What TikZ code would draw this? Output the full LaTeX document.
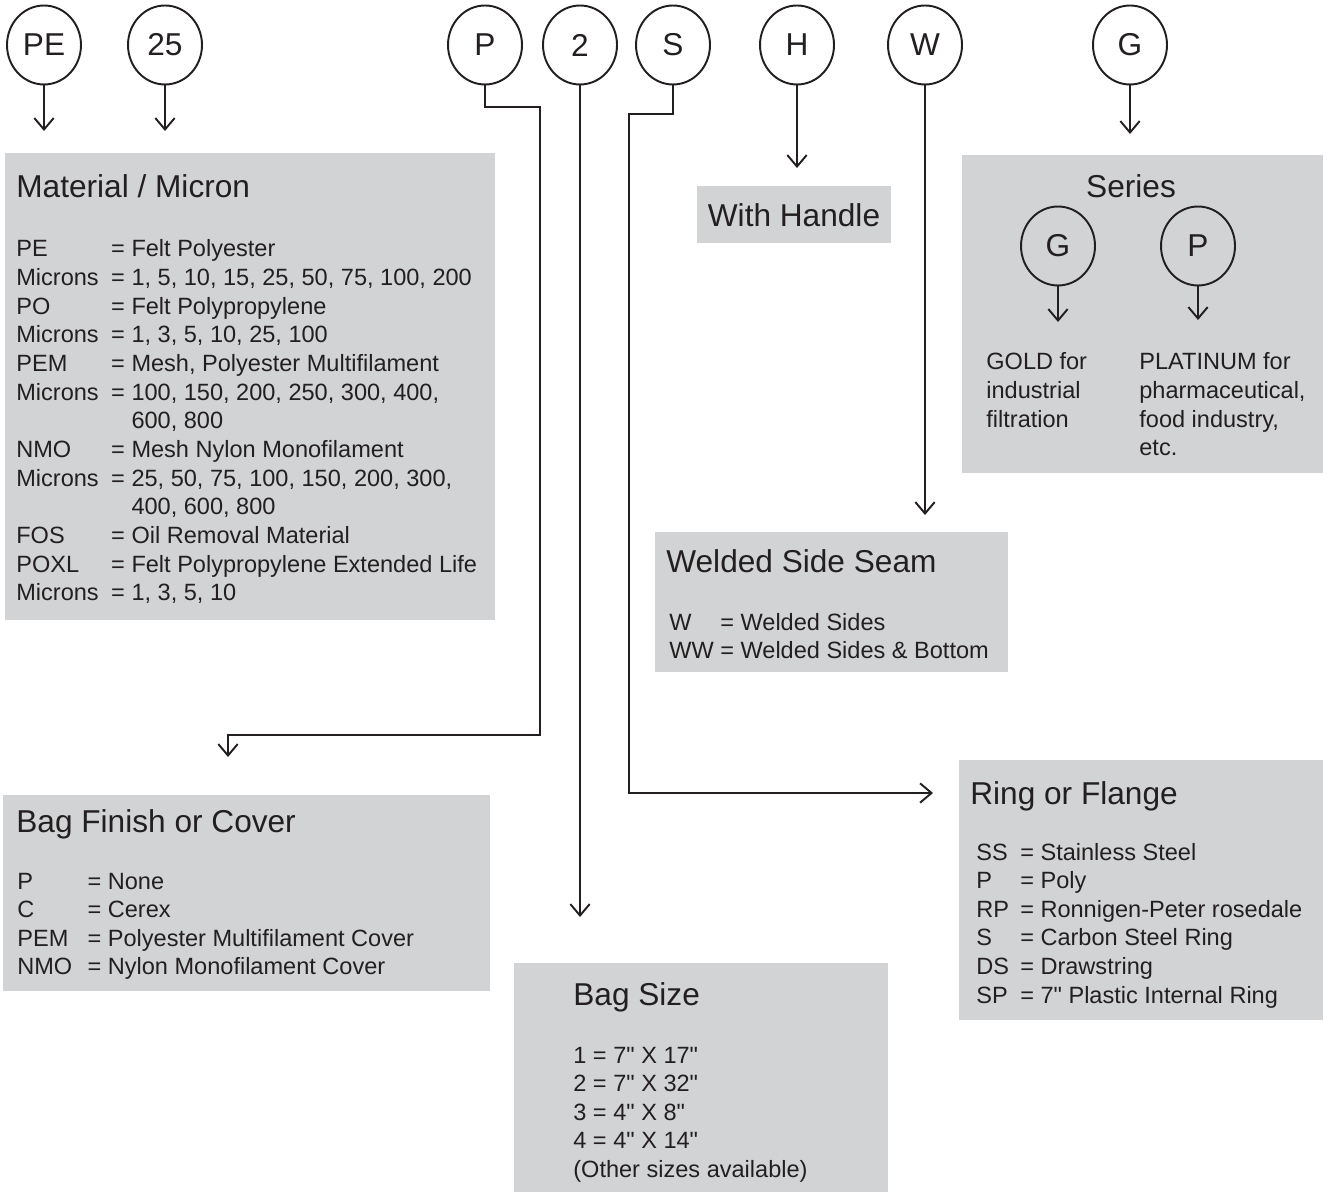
\documentclass[tikz,border=0pt]{standalone}
\usepackage{fontspec}
\setmainfont{Liberation Sans}[Ligatures=TeXOff]
\usetikzlibrary{shapes.geometric,arrows.meta}
\definecolor{boxgray}{HTML}{D1D3D4}
\definecolor{ink}{HTML}{231F20}

\begin{document}
\begin{tikzpicture}[x=0.02cm,y=-0.02cm,
    tag/.style={ellipse, draw=ink, line width=1.1pt, minimum width=1.48cm, minimum height=1.58cm, inner sep=0pt, font=\fontsize{18}{20}\selectfont, text=ink},
    box/.style={rectangle, fill=boxgray, anchor=north west, inner sep=0pt},
    head/.style={anchor=base west, inner sep=0pt, font=\fontsize{18}{22}\selectfont, text=ink},
    txt/.style={anchor=base west, inner sep=0pt, font=\fontsize{13.4}{16.3}\selectfont, text=ink},
    arr/.style={draw=ink, line width=1.1pt, -{Straight Barb[length=6.5pt,width=11pt]}}]

\useasboundingbox (0,0) rectangle (1327,1192);

% code letters
\node[tag] (pe) at (44,45) {PE};
\node[tag] (mic) at (165,45) {25};
\node[tag] (p) at (485,45) {P};
\node[tag] (two) at (580,45) {2};
\node[tag] (s) at (673,45) {S};
\node[tag] (h) at (797,45) {H};
\node[tag] (w) at (925,45) {W};
\node[tag] (g) at (1130,45) {G};

% boxes
\node[box, minimum width=9.8cm, minimum height=9.34cm] (mat) at (5,153) {};
\node[box, minimum width=3.88cm, minimum height=1.14cm] (handle) at (697,186) {};
\node[box, minimum width=7.22cm, minimum height=6.36cm] (series) at (962,155) {};
\node[box, minimum width=7.06cm, minimum height=2.8cm] (weld) at (655,532) {};
\node[box, minimum width=7.28cm, minimum height=5.2cm] (ring) at (959,760) {};
\node[box, minimum width=9.74cm, minimum height=3.92cm] (finish) at (3,795) {};
\node[box, minimum width=7.48cm, minimum height=4.58cm] (size) at (514,963) {};

% Material / Micron
\node[head] (mathead) at (16,198) {Material / Micron};
\node[txt] (matlist) at (16,257) {\begin{tabular}[t]{@{}p{54pt}@{}l@{}}
PE & = Felt Polyester\\
Microns & = 1, 5, 10, 15, 25, 50, 75, 100, 200\\
PO & = Felt Polypropylene\\
Microns & = 1, 3, 5, 10, 25, 100\\
PEM & = Mesh, Polyester Multifilament\\
Microns & = 100, 150, 200, 250, 300, 400,\\
 & \phantom{= }600, 800\\
NMO & = Mesh Nylon Monofilament\\
Microns & = 25, 50, 75, 100, 150, 200, 300,\\
 & \phantom{= }400, 600, 800\\
FOS & = Oil Removal Material\\
POXL & = Felt Polypropylene Extended Life\\
Microns & = 1, 3, 5, 10
\end{tabular}};

% With Handle
\node[head, anchor=base] (handlehead) at (794,227) {With Handle};

% Series
\node[head, anchor=base] (serieshead) at (1131,198) {Series};
\node[tag] (sg) at (1058,246) {G};
\node[tag] (sp) at (1198,246) {P};
\node[txt] (gold) at (986,370) {\begin{tabular}[t]{@{}l@{}}
GOLD for\\ industrial\\ filtration
\end{tabular}};
\node[txt] (plat) at (1139,370) {\begin{tabular}[t]{@{}l@{}}
PLATINUM for\\ pharmaceutical,\\ food industry,\\ etc.
\end{tabular}};

% Welded Side Seam
\node[head] (weldhead) at (666,572) {Welded Side Seam};
\node[txt] (weldlist) at (669,630) {\begin{tabular}[t]{@{}p{29pt}@{}l@{}}
W & = Welded Sides\\
WW & = Welded Sides \& Bottom
\end{tabular}};

% Ring or Flange
\node[head] (ringhead) at (970,804) {Ring or Flange};
\node[txt] (ringlist) at (976,860) {\begin{tabular}[t]{@{}p{25pt}@{}l@{}}
SS & = Stainless Steel\\
P & = Poly\\
RP & = Ronnigen-Peter rosedale\\
S & = Carbon Steel Ring\\
DS & = Drawstring\\
SP & = 7" Plastic Internal Ring
\end{tabular}};

% Bag Finish or Cover
\node[head] (finishhead) at (16,832) {Bag Finish or Cover};
\node[txt] (finishlist) at (17,889) {\begin{tabular}[t]{@{}p{40pt}@{}l@{}}
P & = None\\
C & = Cerex\\
PEM & = Polyester Multifilament Cover\\
NMO & = Nylon Monofilament Cover
\end{tabular}};

% Bag Size
\node[head] (sizehead) at (573,1005) {Bag Size};
\node[txt] (sizelist) at (573,1063) {\begin{tabular}[t]{@{}l@{}}
1 = 7" X 17"\\
2 = 7" X 32"\\
3 = 4" X 8"\\
4 = 4" X 14"\\
(Other sizes available)
\end{tabular}};

% arrow ends
\coordinate (peend) at (44,131);
\coordinate (micend) at (165,131);
\coordinate (pcorner) at (540,735);
\coordinate (pend) at (228,757);
\coordinate (twoend) at (580,917);
\coordinate (scorner) at (629,793);
\coordinate (send) at (933,793);
\coordinate (hend) at (797,168);
\coordinate (wend) at (925,515);
\coordinate (gend) at (1130,134);
\coordinate (sgend) at (1058,322);
\coordinate (spend) at (1198,320);

% connectors
\draw[arr] (pe) -- (peend);
\draw[arr] (mic) -- (micend);
\draw[arr] (p.south) -- ++(0,22) -| (pcorner) -| (pend);
\draw[arr] (two) -- (twoend);
\draw[arr] (s.south) -- ++(0,29) -| (scorner) -- (send);
\draw[arr] (h) -- (hend);
\draw[arr] (w) -- (wend);
\draw[arr] (g) -- (gend);
\draw[arr] (sg) -- (sgend);
\draw[arr] (sp) -- (spend);
\end{tikzpicture}
\end{document}
